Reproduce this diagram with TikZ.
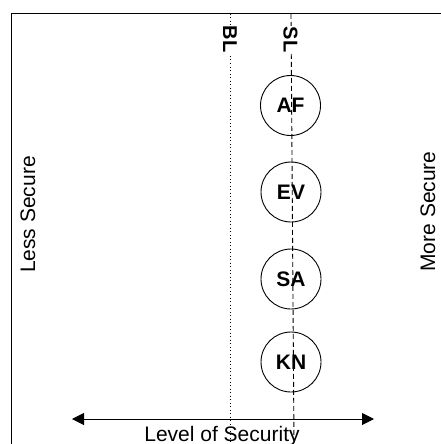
\documentclass[tikz,border=0pt]{standalone}
\usepackage{fontspec}
\setmainfont{Liberation Sans}
\usetikzlibrary{arrows.meta}

\tikzset{
  secnode/.style={draw,circle,minimum size=60pt,inner sep=0pt,line width=.9pt,
    font=\bfseries\fontsize{21}{24}\selectfont},
  limitlabel/.style={fill=white,inner sep=1pt,rotate=-90,
    font=\bfseries\fontsize{20}{24}\selectfont},
  sidelabel/.style={inner sep=0pt,rotate=90,font=\fontsize{21}{24}\selectfont}
}

\begin{document}
\begin{tikzpicture}[x=1pt,y=1pt]
\fill[white] (0,-444) rectangle (441,0);
\useasboundingbox (0,-444) rectangle (441,0);
% frame
\draw[line width=1pt] (11,-444)--(11,-14)--(441,-14);

% baseline and security line
\coordinate (bltop) at (230,-14);
\coordinate (blbot) at (230,-444);
\coordinate (sltop) at (291,-14);
\coordinate (slbot) at (294,-444);
\draw[line width=1pt,dash pattern=on 1pt off 2.5pt] (bltop)--(blbot);
\draw[line width=.9pt,dash pattern=on 5pt off 3pt] (sltop)--(slbot);
\node[limitlabel] (bl) at (230,-39) {BL};
\node[limitlabel] (sl) at (290.5,-39.5) {SL};

% security levels
\node[secnode] (af) at (290.5,-105.5) {AF};
\node[secnode] (ev) at (291,-192) {EV};
\node[secnode] (sa) at (291,-279) {SA};
\node[secnode] (kn) at (291,-362) {KN};

% axis
\coordinate (lowend) at (72,-419);
\coordinate (highend) at (374,-419);
\draw[line width=1pt,{Triangle[length=12pt,width=12pt]}-{Triangle[length=12pt,width=12pt]}] (lowend)--(highend);
\node[anchor=base,inner sep=0pt,font=\fontsize{21}{24}\selectfont] (axis) at (222,-441) {Level of Security};

\node[sidelabel] (less) at (28,-214.5) {Less Secure};
\node[sidelabel] (more) at (428,-211.5) {More Secure};
\end{tikzpicture}
\end{document}
